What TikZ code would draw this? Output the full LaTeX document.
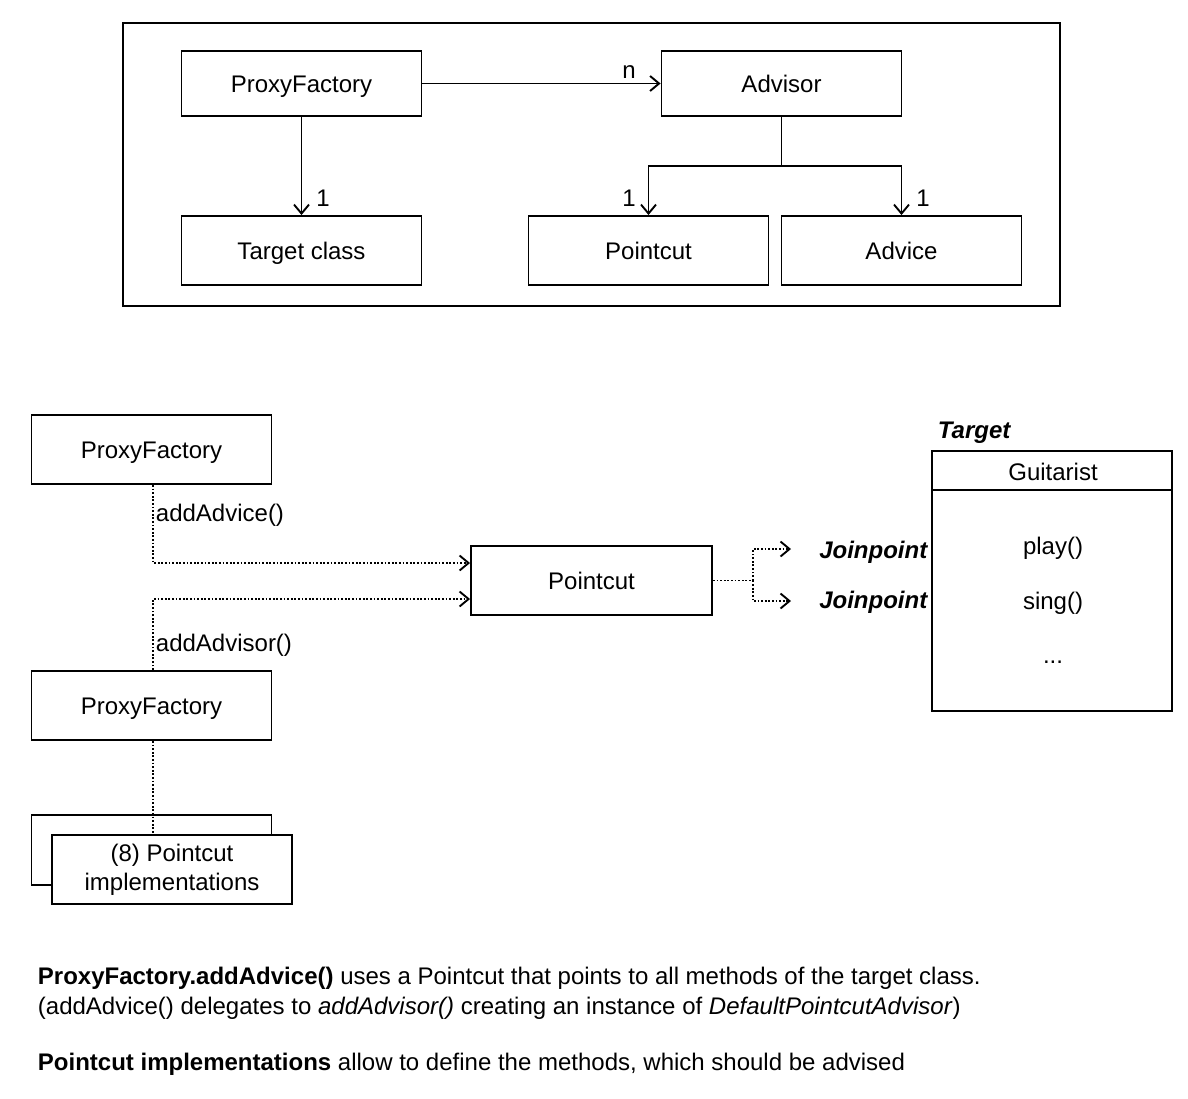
\documentclass[tikz,border=0pt]{standalone}
\usepackage{fontspec}
\setmainfont{Liberation Sans}
\usetikzlibrary{arrows.meta}
\begin{document}
\begin{tikzpicture}[x=1pt,y=-1pt,
  font=\fontsize{24}{28}\selectfont,
  line width=1.9pt,
  box/.style={draw, fill=white, minimum width=240pt, minimum height=69pt, inner sep=0pt, line width=1.9pt, text height=17pt, text depth=0pt},
  arr/.style={-{Straight Barb[length=9pt,width=15pt,line width=1.9pt]}},
  dot/.style={line width=1.9pt, dash pattern=on 1.8pt off 1.8pt},
  lbl/.style={inner sep=0pt}]
\useasboundingbox (0,0) rectangle (1188,1098);
\fill[white] (0,0) rectangle (1188,1098);

% ---------- top diagram ----------
\draw (123,23) rectangle (1060,306);
\node[box, minimum height=65pt] (pf) at (301.5,83.5) {ProxyFactory};
\node[box, minimum height=65pt] (adv) at (781.5,83.5) {Advisor};
\node[box] (tc) at (301.5,250.5) {Target class};
\node[box] (pc) at (648.5,250.5) {Pointcut};
\node[box] (advice) at (901.5,250.5) {Advice};

\draw[arr] (pf.east) -- (adv.west);
\node[lbl] (ln) at (629,72) {n};
\draw[arr] (pf.south) -- (tc.north);
\node[lbl] (l1a) at (323,198) {1};
\draw (adv.south) -- ++(0,49) coordinate (split);
\draw[arr] (split) -| (pc.north);
\draw[arr] (split) -| (advice.north);
\node[lbl] (l1b) at (629,198) {1};
\node[lbl] (l1c) at (923,198) {1};

% ---------- bottom diagram ----------
\node[box] (pf1) at (151.5,449.5) {ProxyFactory};
\node[box, minimum width=241pt] (pc2) at (591.5,580.5) {Pointcut};
\node[box] (pf2) at (151.5,705.5) {ProxyFactory};
\node[box, minimum height=70pt] (implback) at (151.5,850) {};
\draw[dot] ([xshift=1.5pt]pf2.south) -- ++(0,95) coordinate (implin);
\node[box, align=center, text height=, text depth=, font=\fontsize{24}{29}\selectfont] (impl) at (172,869.5) {(8) Pointcut\\implementations};

\draw[dot,arr] ([xshift=1.5pt]pf1.south) |- ([yshift=17.5pt]pc2.west);
\node[lbl, anchor=west] (ladvice) at (155,515) {addAdvice()};
\draw[dot,arr] ([xshift=1.5pt]pf2.north) |- ([yshift=-18.5pt]pc2.west);
\node[lbl, anchor=west] (ladvisor) at (155,645) {addAdvisor()};

\coordinate (j1) at (791,549);
\coordinate (j2) at (791,601);
\draw[dot] (pc2.east) -- ++(40,0) coordinate (jsplit);
\draw[dot,arr] (jsplit) |- (j1);
\draw[dot,arr] (jsplit) |- (j2);
\node[lbl, anchor=east] (jp1) at (929,552) {\textbf{\textit{Joinpoint}}};
\node[lbl, anchor=east] (jp2) at (929,602) {\textbf{\textit{Joinpoint}}};

\node[draw, minimum width=240pt, minimum height=260pt, inner sep=0pt] (g) at (1052,581) {};
\draw ([yshift=-40pt]g.north west) -- ([yshift=-40pt]g.north east);
\node[lbl, anchor=west] (tgt) at (937,433) {\textbf{\textit{Target}}};
\node[lbl] (gname) at (1053,472) {Guitarist};
\node[lbl] (m1) at (1053,548) {play()};
\node[lbl] (m2) at (1053,603) {sing()};
\node[lbl] (m3) at (1053,662) {...};

% ---------- description ----------
\node[lbl, anchor=base west] (t1) at (37,984) {\textbf{ProxyFactory.addAdvice()} uses a Pointcut that points to all methods of the target class.};
\node[lbl, anchor=base west] (t2) at (37,1014) {(addAdvice() delegates to \textit{addAdvisor()} creating an instance of \textit{DefaultPointcutAdvisor})};
\node[lbl, anchor=base west] (t3) at (37,1070) {\textbf{Pointcut implementations} allow to define the methods, which should be advised};
\end{tikzpicture}
\end{document}
